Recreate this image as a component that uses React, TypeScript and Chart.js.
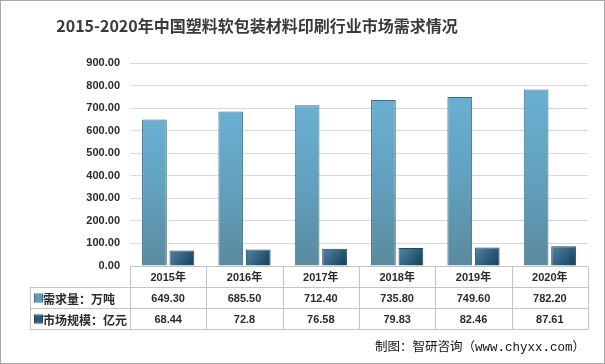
import React, { useEffect, useRef } from "react";
import { Chart, registerables } from "chart.js";

Chart.register(...registerables);

const titleText = "2015-2020年中国塑料软包装材料印刷行业市场需求情况";
const sourceText = "制图：智研咨询（www.chyxx.com）";
const categories = ["2015年", "2016年", "2017年", "2018年", "2019年", "2020年"];
const seriesNames = ["需求量：万吨", "市场规模：亿元"];
const demand = [649.3, 685.5, 712.4, 735.8, 749.6, 782.2];
const marketSize = [68.44, 72.8, 76.58, 79.83, 82.46, 87.61];
const yTicks = [0, 100, 200, 300, 400, 500, 600, 700, 800, 900];

const fmtDemand = (v: number) => v.toFixed(2);
const fmtSize = (v: number) => String(v);

const seriesFill = ["#5f9cbb", "#2b5a76"];

function makeBg(seriesIdx: number) {
  return (c: any) => {
    const chart = c.chart;
    const xs = chart.scales?.x;
    const ys = chart.scales?.y;
    if (!xs || !ys || c.type !== "data" || typeof c.raw !== "number") return seriesFill[seriesIdx];
    const yTop = ys.getPixelForValue(c.raw);
    const yBot = ys.getPixelForValue(0);
    const cx = xs.getPixelForValue(c.dataIndex) + 15;
    if (![yTop, yBot, cx].every((v) => Number.isFinite(v))) return seriesFill[seriesIdx];
    const ctx = chart.ctx;
    if (seriesIdx === 0) {
      const g = ctx.createLinearGradient(0, yTop, 0, yBot);
      g.addColorStop(0, "#6aafd2");
      g.addColorStop(0.5, "#62a0be");
      g.addColorStop(1, "#5a8a9d");
      return g;
    }
    const g = ctx.createLinearGradient(cx - 12, yTop, cx + 12, yBot);
    g.addColorStop(0, "#4f81a0");
    g.addColorStop(0.5, "#2f5f7c");
    g.addColorStop(1, "#103a54");
    return g;
  };
}

const tablePlugin = {
  id: "tablePlugin",
  beforeDraw(chart: any) {
    const ctx = chart.ctx;
    ctx.save();
    ctx.fillStyle = "#ffffff";
    ctx.fillRect(0, 0, chart.width, chart.height);
    ctx.restore();
  },
  afterDraw(chart: any) {
    const ctx = chart.ctx;
    const { left, right, bottom } = chart.chartArea;
    const n = categories.length;
    const colW = (right - left) / n;
    const rowH = 21;
    const legendLeft = 30;
    const y0 = Math.round(bottom) + 0.5;
    ctx.save();
    ctx.strokeStyle = "#c4c4c4";
    ctx.lineWidth = 1;
    ctx.beginPath();
    ctx.moveTo(left, y0);
    ctx.lineTo(right, y0);
    for (let r = 1; r <= 3; r++) {
      ctx.moveTo(legendLeft, y0 + r * rowH);
      ctx.lineTo(right, y0 + r * rowH);
    }
    for (let i = 0; i <= n; i++) {
      const x = Math.round(left + i * colW) + 0.5;
      ctx.moveTo(x, y0);
      ctx.lineTo(x, y0 + 3 * rowH);
    }
    ctx.moveTo(legendLeft + 0.5, y0 + rowH);
    ctx.lineTo(legendLeft + 0.5, y0 + 3 * rowH);
    ctx.stroke();

    ctx.fillStyle = "#2b2b2b";
    ctx.textAlign = "center";
    ctx.textBaseline = "middle";
    ctx.font = "bold 11px 'Liberation Sans', 'Noto Sans CJK SC'";
    const rows = [categories, demand.map(fmtDemand), marketSize.map(fmtSize)];
    rows.forEach((row, r) => {
      row.forEach((t, i) => {
        const cx = left + (i + 0.5) * colW;
        ctx.fillText(t, cx, y0 + r * rowH + rowH / 2 + 1);
      });
    });

    ctx.textAlign = "left";
    ctx.font = "bold 12px 'Noto Sans CJK SC'";
    seriesNames.forEach((name, k) => {
      const cy = y0 + (k + 1) * rowH + rowH / 2;
      ctx.fillStyle = seriesFill[k];
      ctx.fillRect(35, cy - 3.5, 7, 7);
      ctx.strokeStyle = k === 0 ? "#3d6a82" : "#1f3f52";
      ctx.strokeRect(34.5, cy - 4, 8, 8);
      ctx.fillStyle = "#2b2b2b";
      ctx.fillText(name, 43, cy + 1);
    });

    ctx.textAlign = "center";
    ctx.fillStyle = "#3a3a3a";
    ctx.font = "bold 16px 'Noto Sans CJK SC'";
    ctx.fillText(titleText, 257, 26);

    ctx.textAlign = "left";
    ctx.fillStyle = "#111111";
    ctx.font = "12.5px 'Liberation Mono', 'Noto Sans CJK SC'";
    ctx.fillText(sourceText, 375, 348);

    ctx.strokeStyle = "#a8a8a8";
    ctx.strokeRect(0.5, 0.5, chart.width - 1, chart.height - 1);
    ctx.restore();
  },
};

export default function App() {
  const ref = useRef<HTMLCanvasElement>(null);
  useEffect(() => {
    document.body.style.margin = "0";
    if (!ref.current) return;
    const chart = new Chart(ref.current, {
      type: "bar",
      data: {
        labels: categories,
        datasets: [
          {
            label: seriesNames[0],
            data: demand,
            backgroundColor: makeBg(0),
            borderColor: "#3d6a82",
            borderWidth: 1,
            categoryPercentage: 0.72,
            barPercentage: 0.9,
          },
          {
            label: seriesNames[1],
            data: marketSize,
            backgroundColor: makeBg(1),
            borderColor: "#23475c",
            borderWidth: 1,
            categoryPercentage: 0.72,
            barPercentage: 0.9,
          },
        ],
      },
      options: {
        responsive: false,
        animation: false,
        layout: { padding: { left: 0, right: 17, top: 63, bottom: 98 } },
        plugins: {
          legend: { display: false },
          tooltip: { enabled: false },
          title: { display: false },
        },
        scales: {
          x: { display: false },
          y: {
            min: 0,
            max: 900,
            afterFit: (s: any) => {
              s.width = 130;
            },
            afterBuildTicks: (s: any) => {
              s.ticks = yTicks.map((v) => ({ value: v }));
            },
            grid: { color: "#d9d9d9", drawTicks: false },
            border: { display: false },
            ticks: {
              padding: 10,
              color: "#2b2b2b",
              font: { family: "'Liberation Sans'", size: 11, weight: "bold" },
              callback: (v: any) => Number(v).toFixed(2),
            },
          },
        },
      },
      plugins: [tablePlugin],
    });
    return () => chart.destroy();
  }, []);
  return (
    <div style={{ position: "fixed", left: 0, top: 0, width: 605, height: 364 }}>
      <canvas ref={ref} width={605} height={364} style={{ width: 605, height: 364 }} />
    </div>
  );
}
